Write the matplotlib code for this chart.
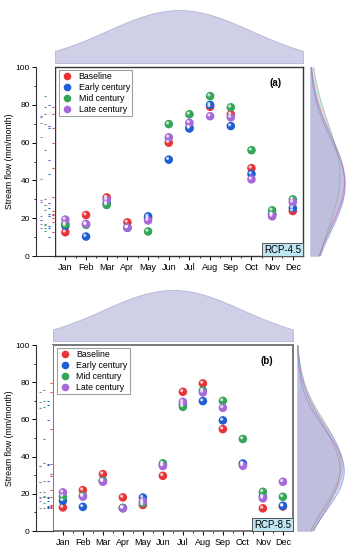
import numpy as np
import matplotlib
matplotlib.use("Agg")
import matplotlib.pyplot as plt
from matplotlib.transforms import offset_copy
from matplotlib.lines import Line2D

plt.rcParams['font.family'] = ['Liberation Sans', 'DejaVu Sans']

months = ['Jan', 'Feb', 'Mar', 'Apr', 'May', 'Jun', 'Jul', 'Aug', 'Sep', 'Oct', 'Nov', 'Dec']
series = ['Baseline', 'Early century', 'Mid century', 'Late century']
colors = ['#e8353a', '#1f5fd4', '#35a558', '#a768d8']

# RCP-4.5
base_45 = [12.6, 21.7, 31.0, 17.8, 20.0, 60.0, 68.0, 79.0, 75.0, 46.5, 22.0, 23.8]
early_45 = [16.0, 10.3, 28.0, 15.0, 21.0, 51.0, 67.5, 80.0, 68.8, 43.4, 22.0, 25.4]
mid_45 = [17.0, 16.5, 27.0, 15.0, 13.0, 69.8, 75.0, 84.6, 78.7, 56.0, 24.2, 30.0]
late_45 = [19.3, 17.0, 29.8, 15.0, 18.8, 62.8, 70.5, 74.0, 73.4, 40.6, 21.0, 28.4]

# RCP-8.5
base_85 = [12.7, 22.0, 30.6, 18.1, 14.0, 29.7, 74.9, 79.4, 54.8, 36.0, 12.2, 13.2]
early_85 = [16.3, 13.0, 27.0, 12.4, 18.0, 35.5, 68.0, 69.9, 59.5, 36.3, 18.5, 13.6]
mid_85 = [18.5, 19.0, 27.0, 12.4, 15.0, 36.4, 66.8, 75.6, 70.0, 49.5, 21.1, 18.4]
late_85 = [20.8, 18.5, 26.5, 12.2, 16.0, 35.0, 69.5, 74.6, 66.3, 35.1, 17.6, 26.5]

yticks = [0, 20, 40, 60, 80, 100]
rug_cols = [0.88, 0.68, 0.47, 0.26]

x = np.arange(1, 13)


def normal_pdf(vals, grid):
    vals = np.asarray(vals, dtype=float)
    m, s = vals.mean(), vals.std(ddof=1)
    return np.exp(-0.5 * ((grid - m) / s) ** 2) / (s * np.sqrt(2 * np.pi))


def panel(fig, main_rect, rug_rect, top_rect, right_rect, data, tag, rcp, spcol, splw):
    ax = fig.add_axes(main_rect)
    rug = fig.add_axes(rug_rect, sharey=ax)
    top = fig.add_axes(top_rect)
    side = fig.add_axes(right_rect, sharey=ax)

    for vals, c in zip(data, colors):
        ax.scatter(x, vals, s=38, color=c, edgecolors='none', zorder=3)
        hl = offset_copy(ax.transData, fig=fig, x=-1.2, y=1.2, units='dots')
        ax.scatter(x, vals, s=5, color='white', alpha=0.75, edgecolors='none',
                   transform=hl, zorder=4)

    ax.set_xlim(0.5, 12.5)
    ax.set_ylim(0, 100)
    ax.set_xticks(x)
    ax.set_xticklabels(months, fontsize=6.5)
    ax.set_xticks(np.arange(1.5, 12.5, 1), minor=True)
    ax.tick_params(axis='x', which='major', direction='out', length=3, width=0.7, pad=2)
    ax.tick_params(axis='x', which='minor', direction='out', length=1.5, width=0.6)
    ax.tick_params(axis='y', left=False, labelleft=False)
    for sp in ax.spines.values():
        sp.set_color(spcol)
        sp.set_linewidth(splw)

    handles = [Line2D([], [], marker='o', linestyle='none', markersize=5.5,
                      markerfacecolor=c, markeredgecolor='none') for c in colors]
    leg = ax.legend(handles, series, loc='upper left', bbox_to_anchor=(0.01, 0.995),
                    fontsize=6.3, frameon=True, fancybox=False, borderpad=0.3,
                    labelspacing=0.2, handletextpad=0.7, handlelength=1.2,
                    borderaxespad=0.2)
    leg.get_frame().set_edgecolor('#888888')
    leg.get_frame().set_linewidth(0.8)

    ax.text(0.89, 0.915, tag, transform=ax.transAxes, fontsize=7, fontweight='bold',
            ha='center', va='center')
    ax.text(0.993, 0.008, rcp, transform=ax.transAxes, fontsize=7, ha='right', va='bottom',
            bbox=dict(boxstyle='square,pad=0.2', facecolor='#bfe4f3', edgecolor='#555555',
                      linewidth=0.7), zorder=5)

    # rug panel with y axis
    for vals, c, xc in zip(data, colors, rug_cols):
        rug.hlines(vals, xc - 0.06, xc + 0.06, color=c, linewidth=0.8)
    rug.set_xlim(0, 1)
    rug.set_yticks(yticks)
    rug.set_yticks(np.arange(10, 100, 20), minor=True)
    rug.tick_params(axis='y', which='major', direction='out', length=3, width=0.7,
                    labelsize=6, pad=1.5)
    rug.tick_params(axis='y', which='minor', direction='out', length=1.5, width=0.6)
    rug.tick_params(axis='x', bottom=False, labelbottom=False)
    rug.spines['top'].set_visible(False)
    rug.spines['right'].set_visible(False)
    for s in ['left', 'bottom']:
        rug.spines[s].set_color('#333333')
        rug.spines[s].set_linewidth(0.8)
    rug.set_ylabel('Stream flow (mm/month)', fontsize=6.3, labelpad=1)

    # top marginal: normal fit of month positions
    gx = np.linspace(0.5, 12.5, 300)
    allx = np.tile(x, len(data))
    px = normal_pdf(allx, gx)
    top.fill_between(gx, 0, px, color='#cfcfe7', edgecolor='#b4b4d6', linewidth=0.6)
    top.set_xlim(0.5, 12.5)
    top.set_ylim(0, px.max() * 1.04)
    top.axis('off')

    # right marginal: normal fit of each series
    gy = np.linspace(0, 100, 300)
    mx = 0
    for vals, c in zip(data, colors):
        py = normal_pdf(vals, gy)
        mx = max(mx, py.max())
        side.fill_betweenx(gy, 0, py, color='#c9c9e6', alpha=0.45, linewidth=0)
        side.fill_betweenx(gy, 0, py, color=c, alpha=0.08, linewidth=0)
        side.plot(py, gy, color=c, alpha=0.35, linewidth=0.6)
    side.set_xlim(0, mx * 1.08)
    side.axis('off')
    return ax


fig = plt.figure(figsize=(3.55, 5.5), dpi=100)

panel(fig, [0.155, 0.5345, 0.699, 0.3436], [0.1014, 0.5345, 0.0535, 0.3436],
      [0.155, 0.8855, 0.699, 0.1], [0.873, 0.5345, 0.107, 0.3436],
      [base_45, early_45, mid_45, late_45], '(a)', 'RCP-4.5', '#333333', 1.0)

panel(fig, [0.149, 0.0345, 0.676, 0.338], [0.1014, 0.0345, 0.048, 0.338],
      [0.149, 0.38, 0.676, 0.0964], [0.8366, 0.0345, 0.1437, 0.338],
      [base_85, early_85, mid_85, late_85], '(b)', 'RCP-8.5', '#777777', 1.4)

fig.savefig('out.png', dpi=100)
